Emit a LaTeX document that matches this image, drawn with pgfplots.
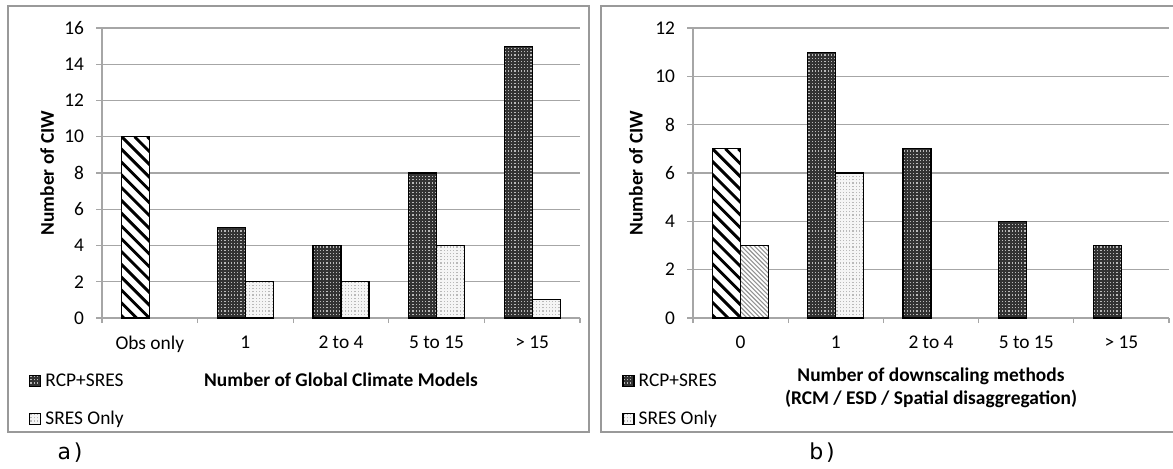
\documentclass[border=0pt]{standalone}
\usepackage{fontspec}
\setmainfont{Carlito}
\newfontfamily\dejavu{DejaVu Sans}
\usepackage{pgfplots}
\pgfplotsset{compat=1.18}

\newcommand\fs{\fontsize{9.7}{11.5}\selectfont}

\tikzset{
  dotfill/.style={path picture={
    \foreach \i in {0,...,10} {
      \draw[#1, line width=0.6pt, dash pattern=on 0.6pt off 1pt]
        ([xshift=\i*1.6pt+0.6pt]path picture bounding box.south west) --
        ([xshift=\i*1.6pt+0.6pt]path picture bounding box.north west);
    }}},
  hatchfill/.style n args={4}{path picture={
    \foreach \k in {#4,...,6} {
      \draw[#1, line width=#2]
        ([xshift=\k*#3]path picture bounding box.north west) -- ++(160pt,-160pt);
    }}},
  rcp/.style={fill=black!80, draw=black, line width=0.6pt, dotfill=gray!55},
  sres/.style={fill=gray!8, draw=black, line width=0.6pt, dotfill=gray!55},
  hatch/.style={fill=white, draw=black, line width=0.6pt, hatchfill={black}{1.45pt}{6.4pt}{-26}},
  ghatch/.style={fill=white, draw=black, line width=0.6pt, hatchfill={gray!85}{0.55pt}{2.2pt}{-70}},
}

\pgfplotsset{
  tex/.style n args={3}{ybar, bar shift=#1, draw=none, fill=none, forget plot,
    visualization depends on={rawy \as \ry},
    nodes near coords={\relax},
    every node near coord/.append style={anchor=north, inner sep=0pt, outer sep=0pt,
      minimum width=14pt, minimum height=\ry*#2, #3}},
  leg/.style={legend image code/.code={\draw[#1] (0pt,-2.75pt) rectangle (5.5pt,2.75pt);}},
  ciw/.style={
    scale only axis,
    ybar,
    bar width=14pt,
    xmin=-0.5, xmax=4.5, ymin=0,
    axis lines*=left,
    axis line style={draw=gray!70, line width=0.6pt},
    xtick={0,...,4},
    minor xtick={-0.5,0.5,...,4.5},
    major x tick style={draw=none},
    minor x tick style={draw=gray!70, line width=0.6pt},
    minor tick length=2.5pt,
    major tick length=3pt,
    tick align=outside,
    ytick style={draw=gray!70, line width=0.6pt},
    ymajorgrids,
    grid style={draw=gray!70, line width=0.6pt},
    tick label style={font=\fs},
    /pgf/number format/assume math mode=true,
    yticklabel style={xshift=-2.5pt},
    xticklabel style={yshift=-2.5pt},
    label style={font=\fs\bfseries},
    legend style={draw=none, fill=none, font=\fs, row sep=7pt, inner sep=0pt},
    legend cell align=left,
  }
}

\begin{document}
\begin{tikzpicture}[x=0.5pt, y=-0.5pt]
\useasboundingbox (0,0) rectangle (1173,468);
\draw[gray!80, line width=0.7pt] (8,6) rectangle (589,432);
\draw[gray!80, line width=0.7pt] (601,6) rectangle (1185,432);
\node[font=\dejavu\fontsize{11}{13}\selectfont] at (70,453) {a\hspace{0.12em})};
\node[font=\dejavu\fontsize{11}{13}\selectfont] at (822,453) {b\hspace{0.12em})};
\coordinate (A) at (102,318);
\coordinate (B) at (693,318);

\begin{axis}[ciw, at={(A)}, anchor=south west, width=239pt, height=145pt,
  ymax=16, ytick={0,2,...,16},
  xticklabels={Obs only,1,2 to 4,5 to 15,> 15},
  ylabel={Number of CIW},
  ylabel style={at={(axis description cs:-0.115,0.5)}, anchor=center},
  xlabel={Number of Global Climate Models},
  xlabel style={at={(axis description cs:0.5,-0.214)}, anchor=center},
  legend style={at={(axis description cs:-0.153,-0.176)}, anchor=north west},
]
\addlegendimage{leg=rcp}
\addlegendimage{leg=sres}
\addplot[tex={-7pt}{9.0625pt}{hatch}] coordinates {(0,10)};
\addplot[tex={-7pt}{9.0625pt}{rcp}] coordinates {(1,5) (2,4) (3,8) (4,15)};
\addplot[tex={7pt}{9.0625pt}{sres}] coordinates {(1,2) (2,2) (3,4) (4,1)};
\legend{RCP+SRES, SRES Only}
\end{axis}

\begin{axis}[ciw, at={(B)}, anchor=south west, width=238pt, height=145pt,
  ymax=12, ytick={0,2,...,12},
  xticklabels={0,1,2 to 4,5 to 15,> 15},
  ylabel={Number of CIW},
  ylabel style={at={(axis description cs:-0.12,0.5)}, anchor=center},
  xlabel={Number of downscaling methods\\(RCM / ESD / Spatial disaggregation)},
  xlabel style={at={(axis description cs:0.5,-0.241)}, anchor=center, align=center},
  legend style={at={(axis description cs:-0.149,-0.176)}, anchor=north west},
]
\addlegendimage{leg=rcp}
\addlegendimage{leg=sres}
\addplot[tex={-7pt}{12.0833pt}{hatch}] coordinates {(0,7)};
\addplot[tex={7pt}{12.0833pt}{ghatch}] coordinates {(0,3)};
\addplot[tex={-7pt}{12.0833pt}{rcp}] coordinates {(1,11) (2,7) (3,4) (4,3)};
\addplot[tex={7pt}{12.0833pt}{sres}] coordinates {(1,6)};
\legend{RCP+SRES, SRES Only}
\end{axis}
\end{tikzpicture}
\end{document}
